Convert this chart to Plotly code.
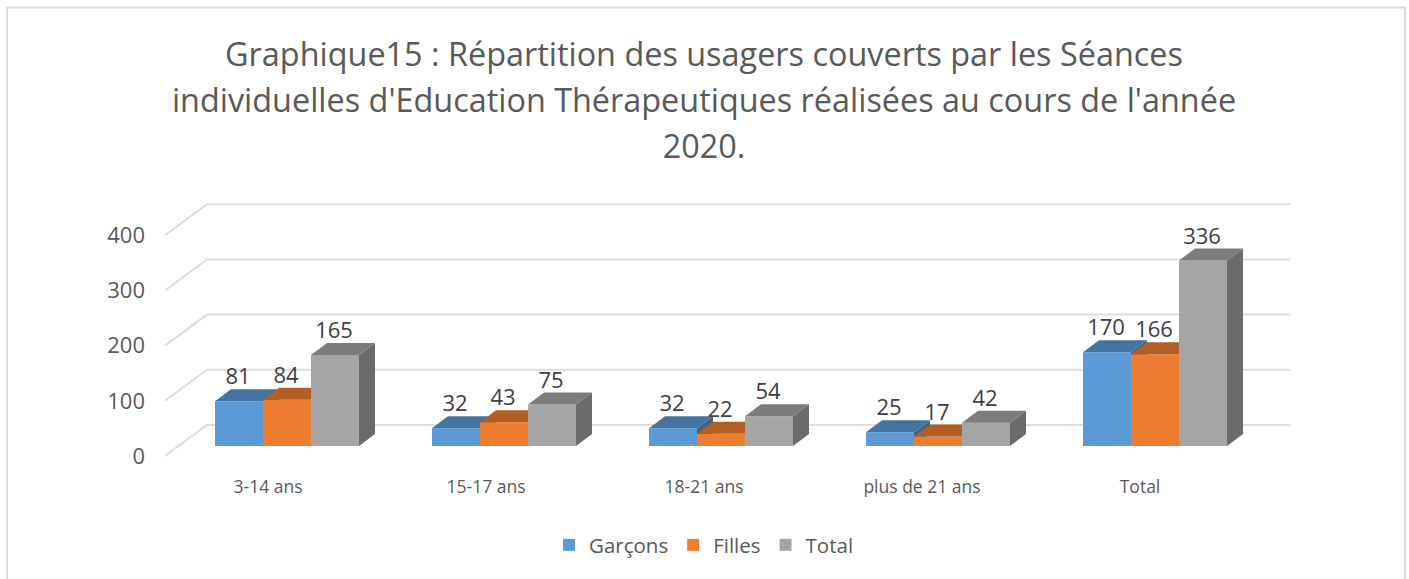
import plotly.graph_objects as go

categories = ["3-14 ans", "15-17 ans", "18-21 ans", "plus de 21 ans", "Total"]
garcons = [81, 32, 32, 25, 170]
filles = [84, 43, 22, 17, 166]
total = [165, 75, 54, 42, 336]
y_ticks = [0, 100, 200, 300, 400]
title_lines = ["Graphique15 : Répartition des usagers couverts par les Séances",
               "individuelles d'Education Thérapeutiques réalisées au cours de l'année",
               "2020."]

series = [
    ("Garçons", garcons, "#5B9BD5", "#44749F", "#3B6588"),
    ("Filles", filles, "#ED7D31", "#B25E25", "#9A5120"),
    ("Total", total, "#A5A5A5", "#7C7C7C", "#6B6B6B"),
]

# geometry: pixels of the target mapped to axis units
PX_CAT = 217.0
PX_VAL = 0.552
L, R, T, B = 165, 1290, 190, 472
X0, Y0 = 215, 446
W = 48 / PX_CAT
DX, DY = 16 / PX_CAT, 12 / PX_VAL
xr = [(L - X0) / PX_CAT, (R - X0) / PX_CAT]
yr = [(Y0 - B) / PX_VAL, (Y0 - T) / PX_VAL]
WALL_Y = 21 / PX_VAL
FRONT_Y = -10 / PX_VAL
WALL_X = (207 - X0) / PX_CAT
LABEL_DY = 22.5 / PX_VAL

fig = go.Figure()
idx = list(range(len(categories)))

for s, (name, vals, front, top, side) in enumerate(series):
    suffix = "" if s == 0 else str(s + 1)
    xa, ya = "x" + suffix, "y" + suffix
    lefts = [i + s * W for i in idx]
    fig.add_trace(go.Bar(
        x=[l + W / 2 for l in lefts], y=vals, width=W, name=name,
        marker=dict(color=front, line=dict(width=0)),
        xaxis=xa, yaxis=ya, hoverinfo="name+y",
    ))
    sx, sy, tx, ty = [], [], [], []
    for l, v in zip(lefts, vals):
        sx += [l + W, l + W + DX, l + W + DX, l + W, l + W, None]
        sy += [0, DY, v + DY, v, 0, None]
        tx += [l, l + DX, l + W + DX, l + W, l, None]
        ty += [v, v + DY, v + DY, v, v, None]
    for px, py, col in ((sx, sy, side), (tx, ty, top)):
        fig.add_trace(go.Scatter(
            x=px, y=py, mode="lines", fill="toself", fillcolor=col,
            line=dict(width=0, color=col), showlegend=False, hoverinfo="skip",
            xaxis=xa, yaxis=ya,
        ))

for s, (name, vals, *_rest) in enumerate(series):
    fig.add_trace(go.Scatter(
        x=[i + (s + 0.5) * W - 1 / PX_CAT for i in idx],
        y=[v + LABEL_DY for v in vals],
        mode="text", text=[str(v) for v in vals], textposition="middle center",
        textfont=dict(family="Open Sans", size=22, color="#404040"),
        showlegend=False, hoverinfo="skip", xaxis="x3", yaxis="y3",
    ))

shapes = []
for t in y_ticks:
    shapes.append(dict(
        type="path", xref="x", yref="y", layer="below",
        path=f"M {xr[0]} {t + FRONT_Y} L {WALL_X} {t + WALL_Y} L {xr[1]} {t + WALL_Y}",
        line=dict(color="#DDDDDD", width=2),
    ))


def px_x(p):
    return (p - L) / (R - L)


def px_y(p):
    return (B - p) / (B - T)


shapes.append(dict(
    type="path", xref="paper", yref="paper", layer="below",
    path=f"M {px_x(7)} {px_y(585)} L {px_x(7)} {px_y(7.5)} L {px_x(1405)} {px_y(7.5)} L {px_x(1405)} {px_y(585)}",
    line=dict(color="#DADADA", width=2),
))

layout_axes = {}
for n in (2, 3):
    layout_axes[f"xaxis{n}"] = dict(overlaying="x", range=xr, visible=False, fixedrange=True)
    layout_axes[f"yaxis{n}"] = dict(overlaying="y", range=yr, visible=False, fixedrange=True)

title_text = "<br>".join(f'<span style="font-size:32.4px">{t}</span>' for t in title_lines)

fig.update_layout(
    width=1409, height=579,
    margin=dict(l=L, r=1409 - R, t=T, b=579 - B, autoexpand=False),
    paper_bgcolor="white", plot_bgcolor="rgba(0,0,0,0)",
    font=dict(family="Open Sans", color="#595959"),
    title=dict(
        text=title_text, xref="paper", x=(704 - L) / (R - L), xanchor="center",
        yref="container", y=0.886, yanchor="top",
        font=dict(family="Open Sans", size=35.4, color="#595959"),
    ),
    xaxis=dict(range=xr, tickmode="array",
               tickvals=[(268 + 218 * i - X0) / PX_CAT for i in idx], ticktext=categories,
               showgrid=False, zeroline=False, showline=False, ticks="", fixedrange=True,
               ticklabelstandoff=2,
               tickfont=dict(size=17.5, color="#595959")),
    yaxis=dict(range=yr, tickmode="array", tickvals=[t + FRONT_Y for t in y_ticks],
               ticktext=[str(t) for t in y_ticks], showgrid=False, zeroline=False, showline=False,
               ticks="", ticklabelstandoff=19, fixedrange=True,
               tickfont=dict(size=22, color="#595959")),
    legend=dict(orientation="h", x=(704 - L) / (R - L), xanchor="center",
                y=(B - 545) / (B - T), yanchor="middle",
                font=dict(size=20.5, color="#595959"), traceorder="normal"),
    barmode="overlay", shapes=shapes, showlegend=True, **layout_axes,
)

fig.write_html("out.html", post_script="document.body.style.margin='0';document.body.style.overflow='hidden';",
               config=dict(displayModeBar=False))
